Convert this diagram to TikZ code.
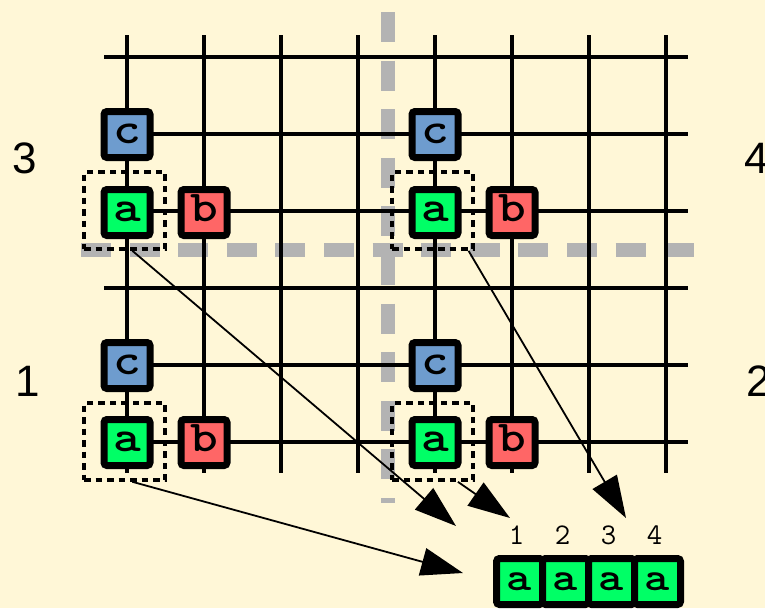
\documentclass[tikz,border=0pt]{standalone}
\usepackage{graphicx}
\usepackage{fontspec}
\setmainfont{Liberation Sans}
\usetikzlibrary{arrows.meta,calc}

\definecolor{paper}{RGB}{255,247,215}
\definecolor{guide}{RGB}{179,179,179}
\definecolor{cblue}{RGB}{110,156,206}
\definecolor{agreen}{RGB}{0,255,102}
\definecolor{bred}{RGB}{255,102,102}

% widened typewriter letters for the cells
\newcommand{\wide}[1]{\scalebox{1.2}[1]{#1}}

\tikzset{
  gridline/.style={line width=3.5pt, black},
  guideline/.style={line width=14pt, guide, dash pattern=on 30pt off 18.6pt},
  cell/.style={draw=black, line width=7pt, rounded corners=3pt,
    minimum size=46pt, inner sep=0pt, text height=18pt, text depth=0pt,
    font=\ttfamily\bfseries\fontsize{44}{44}\selectfont},
  acell/.style={cell, fill=agreen},
  bcell/.style={cell, fill=bred},
  ccell/.style={cell, fill=cblue},
  slot/.style={cell, fill=agreen, text height=17pt,
    font=\ttfamily\bfseries\fontsize{40}{40}\selectfont},
  group/.style={draw=black, line width=3.6pt, dash pattern=on 6.5pt off 5pt,
    minimum width=81pt, minimum height=77pt, inner sep=0pt},
  quadlabel/.style={font=\fontsize{44}{44}\selectfont, inner sep=0pt},
  index/.style={font=\ttfamily\fontsize{30}{30}\selectfont, inner sep=0pt, anchor=base},
  link/.style={line width=1.8pt, -{Triangle[length=42pt,width=28pt]}},
}

\begin{document}
\begin{tikzpicture}[x=1pt,y=-1pt]
\useasboundingbox (0,0) rectangle (765,608);
\fill[paper] (0,0) rectangle (765,608);

% quadrant separators
\draw[guideline] (388,12) -- (388,503);
\draw[guideline] (81,250) -- (695,250);

% mesh
\foreach \x in {127,204,281,358,435,512,589,666}
  \draw[gridline] (\x,35) -- (\x,473);
\foreach \y in {57,134,211,288,365,442}
  \draw[gridline] (104,\y) -- (688,\y);

% groups around the a cells
\node[group] (r3) at (124.5,210.5) {};
\node[group] (r4) at (432.5,210.5) {};
\node[group] (r1) at (124.5,441.5) {};
\node[group] (r2) at (432.5,441.5) {};

% cells of each quadrant
\node[ccell] (c3) at (127,134.5) {\wide{c}};
\node[acell] (a3) at (127,212.5) {\wide{a}};
\node[bcell] (b3) at (204,212.5) {\wide{b}};

\node[ccell] (c4) at (435,134.5) {\wide{c}};
\node[acell] (a4) at (435,212.5) {\wide{a}};
\node[bcell] (b4) at (512,212.5) {\wide{b}};

\node[ccell] (c1) at (127,365.5) {\wide{c}};
\node[acell] (a1) at (127,442.5) {\wide{a}};
\node[bcell] (b1) at (204,442.5) {\wide{b}};

\node[ccell] (c2) at (435,365.5) {\wide{c}};
\node[acell] (a2) at (435,442.5) {\wide{a}};
\node[bcell] (b2) at (512,442.5) {\wide{b}};

% quadrant numbers
\node[quadlabel] (q3) at (25,158) {3};
\node[quadlabel] (q1) at (28,381) {1};
\node[quadlabel] (q4) at (757,158) {4};
\node[quadlabel] (q2) at (759,381) {2};

% gathered array
\foreach \i/\x in {1/519.5,2/565.5,3/611.5,4/657.5} {
  \node[slot] (s\i) at (\x,581.5) {\wide{a}};
  \node[index] (n\i) at (\x-3,544) {\i};
}

% arrow targets
\coordinate (t1) at (463,573);
\coordinate (t3) at (456,526);
\coordinate (t2) at (510,518);
\coordinate (t4) at (626,518);

\draw[link] ($(r1.south west)!0.593!(r1.south east)$) -- (t1);
\draw[link] ($(r3.south west)!0.593!(r3.south east)$) -- (t3);
\draw[link] ($(r2.south west)!0.80!(r2.south east)$) -- (t2);
\draw[link] ($(r4.south west)!0.926!(r4.south east)$) -- (t4);
\end{tikzpicture}
\end{document}
